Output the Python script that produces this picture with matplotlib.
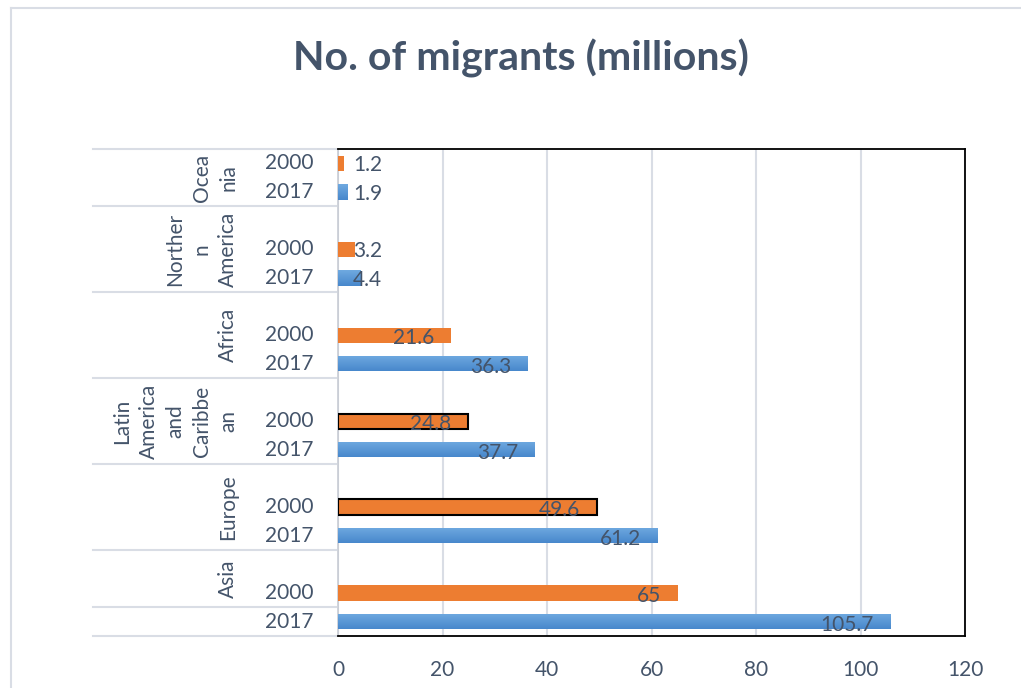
import numpy as np
import matplotlib.pyplot as plt
from matplotlib.transforms import blended_transform_factory
from matplotlib.lines import Line2D
from matplotlib.colors import LinearSegmentedColormap

plt.rcParams['font.family'] = ['Lato', 'DejaVu Sans']

# data
region_labels = ["Ocea\nnia", "Norther\nn\nAmerica", "Africa",
                 "Latin\nAmerica\nand\nCaribbe\nan", "Europe", "Asia"]
years = ["2000", "2017"]
migrants_2000 = [1.2, 3.2, 21.6, 24.8, 49.6, 65]
migrants_2017 = [1.9, 4.4, 36.3, 37.7, 61.2, 105.7]
x_ticks = [0, 20, 40, 60, 80, 100, 120]

txt = '#44546A'
grid = '#d9dde5'
orange = '#ED7D31'
blue = '#5B9BD5'
outlined = [False, False, False, True, True, False]  # bars with black edge
blue_grad = LinearSegmentedColormap.from_list('bg', ['#6FA9E0', '#4888CC'])

W, H = 1021, 688
fig = plt.figure(figsize=(W / 100, H / 100), dpi=100)
fig.patch.set_facecolor('white')

# chart border (light)
fig.add_artist(Line2D([10.5 / W, 10.5 / W], [0, 1 - 7.5 / H], transform=fig.transFigure, color=grid, lw=1.5))
fig.add_artist(Line2D([10.5 / W, 1], [1 - 7.5 / H, 1 - 7.5 / H], transform=fig.transFigure, color=grid, lw=1.5))

fig.text(521 / W, 1 - 58 / H, "No. of migrants (millions)", ha='center', va='center',
         fontsize=29.5, fontweight='bold', color=txt)

ax = fig.add_axes([338 / W, 1 - 636 / H, 627 / W, 487 / H])

n = len(region_labels)
pos_2000 = np.arange(n) * 3 + 0.5
pos_2017 = pos_2000 + 1
h = 0.53

grad = np.linspace(0, 1, 32).reshape(-1, 1)
for i in range(n):
    ax.barh(pos_2000[i], migrants_2000[i], height=h, color=orange,
            edgecolor='black' if outlined[i] else orange, linewidth=1.5 if outlined[i] else 0, zorder=3)
    b = ax.barh(pos_2017[i], migrants_2017[i], height=h, color=blue, linewidth=0, zorder=3)[0]
    im = ax.imshow(grad, cmap=blue_grad, aspect='auto', zorder=3.5, interpolation='bilinear',
                   extent=[0, migrants_2017[i], pos_2017[i] + h / 2, pos_2017[i] - h / 2])
    im.set_clip_path(b)

for vals, pos in [(migrants_2000, pos_2000), (migrants_2017, pos_2017)]:
    for v, p in zip(vals, pos):
        lab = f"{v:g}"
        if v < 10:
            ax.text(2.9, p + 0.06, lab, ha='left', va='center', fontsize=15, color=txt, zorder=4)
        else:
            ax.text(v - 3.2, p + 0.1, lab, ha='right', va='center', fontsize=15, color=txt, zorder=4)

ax.set_xlim(0, 120)
ax.set_ylim(17, 0)
ax.set_xticks(x_ticks)
ax.set_xticklabels([str(t) for t in x_ticks], fontsize=15, color=txt)
ax.tick_params(axis='x', length=0, pad=17)
ax.set_yticks([])
ax.grid(axis='x', color=grid, lw=1.5, zorder=0)
ax.set_axisbelow(True)

for s in ['top', 'right', 'bottom']:
    ax.spines[s].set_color('black')
    ax.spines[s].set_linewidth(1.3)
ax.spines['left'].set_color('#c8ccd4')
ax.spines['left'].set_linewidth(1.2)

# category table on the left
tr = blended_transform_factory(ax.transAxes, ax.transData)
x0 = (93 - 338) / 627
bounds = [0] + list(np.arange(n - 1) * 3 + 2) + [16, 17]
for b in bounds:
    ax.add_line(Line2D([x0, -0.003], [b, b], transform=tr, color=grid, lw=1.5, clip_on=False))

for y2000, y2017 in zip(pos_2000, pos_2017):
    ax.text((313 - 338) / 627, y2000, years[0], transform=tr, ha='right', va='center',
            fontsize=15, color=txt, clip_on=False)
    ax.text((313 - 338) / 627, y2017, years[1], transform=tr, ha='right', va='center',
            fontsize=15, color=txt, clip_on=False)

label_centers = [1.0] + list(np.arange(1, n - 1) * 3 + 0.5) + [15.0]
for lab, c in zip(region_labels, label_centers):
    ax.text((238 - 338) / 627, c, lab, transform=tr, rotation=90, ha='right', va='center',
            multialignment='center', linespacing=1.4, fontsize=15, color=txt, clip_on=False)

ax.set_xlim(0, 120)
ax.set_ylim(17, 0)

fig.savefig('out.png', dpi=100, facecolor='white')
